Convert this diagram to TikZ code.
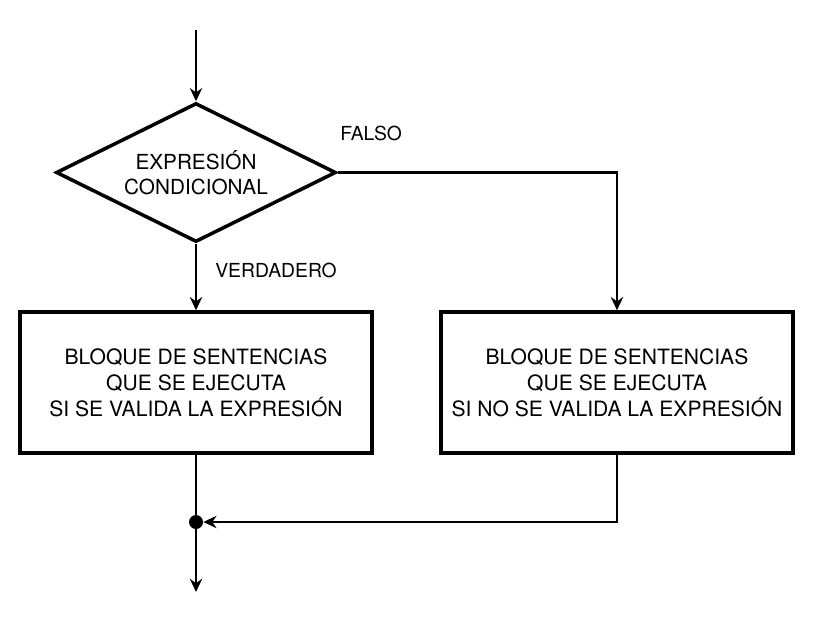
\documentclass[tikz,border=0pt]{standalone}
\usepackage{fontspec}
\setmainfont{TeX Gyre Heros}
\usetikzlibrary{positioning,shapes.geometric,arrows.meta}

\begin{document}
\begin{tikzpicture}[x=0.02cm,y=-0.02cm,>={Stealth[length=7.5pt,width=7pt]},
    flow/.style={line width=1.2pt},
    box/.style={draw,line width=2pt,minimum width=7.04cm,minimum height=2.82cm,
      align=center,font=\fontsize{12}{14.8}\selectfont},
    cond node/.style={diamond,draw,line width=2pt,aspect=2,inner sep=0pt,
      minimum width=5.6cm,minimum height=2.78cm,align=center,
      font=\fontsize{11.8}{14.3}\selectfont},
    lbl/.style={font=\fontsize{11}{13}\selectfont,inner sep=0pt},
    join dot/.style={circle,fill,inner sep=0pt,minimum size=0.28cm}]
    \useasboundingbox (0,0) rectangle (813,627);
    % nodes
      \coordinate (start) at (196,30);
      \node[cond node] (cond) at (196,172.5) {EXPRESIÓN\\CONDICIONAL};
      \node[box] (yes) at (196,382.5) {BLOQUE DE SENTENCIAS\\QUE SE EJECUTA\\SI SE VALIDA LA EXPRESIÓN};
      \node[box] (no) at (617,382.5) {BLOQUE DE SENTENCIAS\\QUE SE EJECUTA\\SI NO SE VALIDA LA EXPRESIÓN};
      \node[join dot] (join) at (196,522) {};
      \coordinate (end) at (196,592);
      \node[lbl,anchor=west] (falso) at (340,133) {FALSO};
      \node[lbl,anchor=west] (verdadero) at (215,270) {VERDADERO};
      % edges
      \draw[flow,->] (start) -- (cond.north);
      \draw[flow,->] (cond.east) -| (no.north);
      \draw[flow,->] (cond.south) -- (yes.north);
      \draw[flow] (yes.south) -- (join);
      \draw[flow,->] (no.south) |- (join);
      \draw[flow,->] (join) -- (end);
\end{tikzpicture}
\end{document}
